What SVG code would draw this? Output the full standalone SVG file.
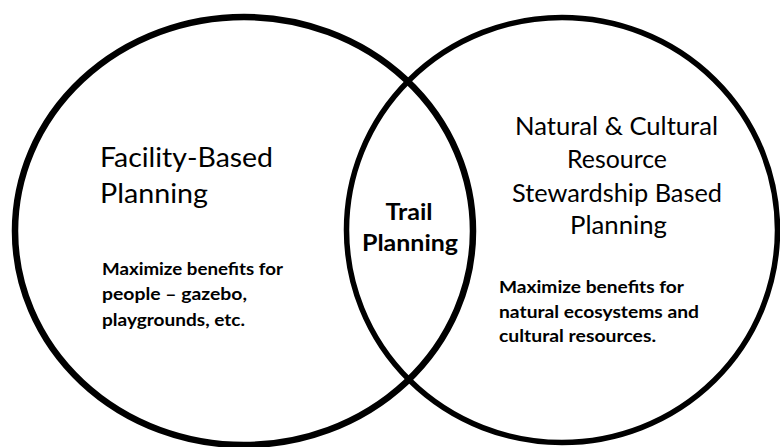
<svg xmlns="http://www.w3.org/2000/svg" width="780" height="447" viewBox="0 0 780 447">
  <style>
    .ring { fill: none; stroke: #000; }
    .title { font-family: Lato, "Open Sans", "Liberation Sans", sans-serif; font-weight: 400; fill: #000; }
    .body { font-family: Lato, "Liberation Sans", sans-serif; font-weight: 700; font-size: 17px; fill: #000; }
    .core { font-family: Lato, "Liberation Sans", sans-serif; font-weight: 700; font-size: 23px; fill: #000; text-anchor: middle; }
  </style>
  <rect x="0" y="0" width="780" height="447" fill="#fff"/>

  <!-- left set: facility-based planning -->
  <g id="facility">
    <ellipse class="ring" cx="244" cy="231" rx="229" ry="214" stroke-width="6.5"/>
    <text class="title" font-size="27" x="100" y="167" textLength="173" lengthAdjust="spacingAndGlyphs">Facility-Based</text>
    <text class="title" font-size="27" x="100" y="203" textLength="108" lengthAdjust="spacingAndGlyphs">Planning</text>
    <text class="body" x="102" y="275" textLength="181" lengthAdjust="spacingAndGlyphs">Maximize benefits for</text>
    <text class="body" x="102" y="300" textLength="145" lengthAdjust="spacingAndGlyphs">people – gazebo,</text>
    <text class="body" x="102" y="326" textLength="143" lengthAdjust="spacingAndGlyphs">playgrounds, etc.</text>
  </g>

  <!-- right set: natural & cultural resource stewardship -->
  <g id="stewardship">
    <ellipse class="ring" cx="562" cy="230" rx="215.5" ry="212.5" stroke-width="5.5"/>
    <text class="title" font-size="25" x="515" y="135" textLength="203" lengthAdjust="spacingAndGlyphs">Natural &amp; Cultural</text>
    <text class="title" font-size="25" x="567" y="168" textLength="100" lengthAdjust="spacingAndGlyphs">Resource</text>
    <text class="title" font-size="25" x="512" y="202" textLength="210" lengthAdjust="spacingAndGlyphs">Stewardship Based</text>
    <text class="title" font-size="25" x="570" y="234" textLength="97" lengthAdjust="spacingAndGlyphs">Planning</text>
    <text class="body" x="499" y="293" textLength="185" lengthAdjust="spacingAndGlyphs">Maximize benefits for</text>
    <text class="body" x="499" y="318" textLength="200" lengthAdjust="spacingAndGlyphs">natural ecosystems and</text>
    <text class="body" x="499" y="342" textLength="157" lengthAdjust="spacingAndGlyphs">cultural resources.</text>
  </g>

  <!-- overlap label -->
  <g id="trail">
    <text class="core" x="409" y="220" textLength="47" lengthAdjust="spacingAndGlyphs">Trail</text>
    <text class="core" x="410" y="251" textLength="96" lengthAdjust="spacingAndGlyphs">Planning</text>
  </g>

  <g id="connectors"></g>
</svg>
